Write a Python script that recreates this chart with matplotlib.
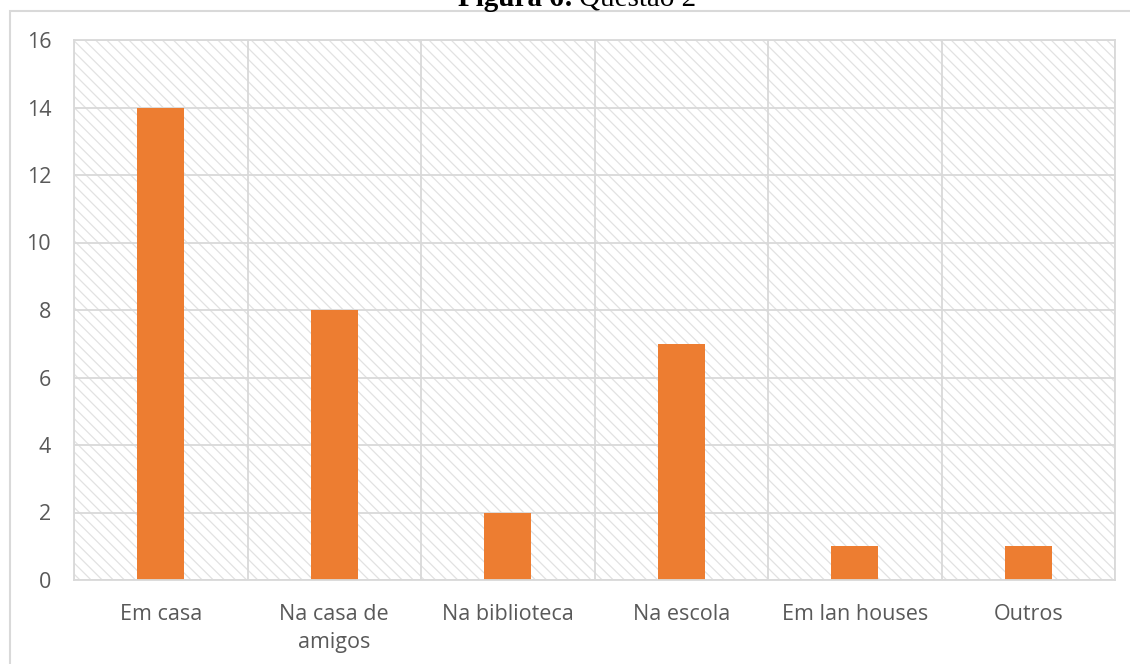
import matplotlib.pyplot as plt
from matplotlib.patches import Rectangle

# dados do gráfico
categorias = ["Em casa", "Na casa de\namigos", "Na biblioteca", "Na escola", "Em lan houses", "Outros"]
valores = [14, 8, 2, 7, 1, 1]
yticks = [0, 2, 4, 6, 8, 10, 12, 14, 16]

cinza = "#d9d9d9"
plt.rcParams["hatch.color"] = "#e2e2e2"
plt.rcParams["hatch.linewidth"] = 0.9

fig = plt.figure(figsize=(11.3, 6.64), dpi=100)
ax = fig.add_axes([74 / 1130, 84 / 664, (1115 - 74) / 1130, (580 - 40) / 664])

# borda externa do gráfico (sai da imagem à direita e embaixo)
fig.patches.append(Rectangle((10 / 1130, -0.1), 1.2, 1 - 11 / 664 + 0.1, transform=fig.transFigure,
                             fill=False, edgecolor=cinza, linewidth=1.5))

# fundo hachurado da área de plotagem
ax.add_patch(Rectangle((0, 0), 1, 1, transform=ax.transAxes, facecolor="white",
                       edgecolor="#e2e2e2", hatch="\\\\\\", linewidth=0, zorder=0))

x = list(range(len(categorias)))
ax.bar(x, valores, width=0.27, color="#ED7D31", zorder=3)

ax.set_xlim(-0.5, len(categorias) - 0.5)
ax.set_ylim(0, 16)
ax.set_yticks(yticks)
ax.set_xticks(x)
ax.set_xticklabels(categorias, linespacing=1.45)

# grades horizontais e verticais (entre categorias)
for v in yticks:
    ax.axhline(v, color=cinza, linewidth=1.3, zorder=1)
for i in range(len(categorias) + 1):
    ax.axvline(i - 0.5, color=cinza, linewidth=1.3, zorder=1)

for s in ax.spines.values():
    s.set_color(cinza)
    s.set_linewidth(1.3)
    s.set_zorder(4)

ax.tick_params(axis="both", length=0, labelsize=15.5, labelcolor="#595959")
ax.tick_params(axis="y", pad=16.5)
ax.tick_params(axis="x", pad=17)
for t in ax.get_xticklabels() + ax.get_yticklabels():
    t.set_fontfamily("Open Sans")

# título cortado no topo
fig.text(573 / 1130, 1 - 6 / 664, "Figura 6:", ha="right", va="baseline",
         fontsize=21, fontweight="bold", family="Liberation Serif")
fig.text(579 / 1130, 1 - 6 / 664, "Questão 2", ha="left", va="baseline",
         fontsize=21, family="Liberation Serif")

fig.savefig("out.png", dpi=100)
